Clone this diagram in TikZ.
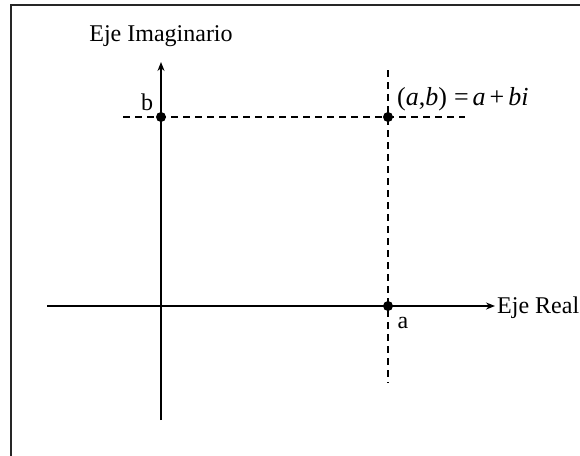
\documentclass[tikz,border=0pt]{standalone}
\usepackage{fontspec}
\setmainfont{Liberation Serif}
\usetikzlibrary{arrows.meta}
\begin{document}
\begin{tikzpicture}[x=1pt,y=-1pt,
  axis/.style={line width=1.6pt,-{Stealth[length=9pt,width=7pt,inset=3pt]}},
  guide/.style={line width=1.6pt,dash pattern=on 7pt off 5pt},
  dot/.style={circle,fill=black,inner sep=0pt,minimum size=10pt},
  lbl/.style={font=\fontsize{24}{28}\selectfont,inner sep=0pt},
  mlbl/.style={font=\fontsize{26}{30}\selectfont,inner sep=0pt},
  frame/.style={line width=1.8pt,draw=black!85}]
\useasboundingbox (0,0) rectangle (580,455);
\draw[frame] (11,5) rectangle (600,475);
% axes
\coordinate (xs) at (47,306);
\coordinate (xe) at (495,306);
\coordinate (ys) at (161,420);
\coordinate (ye) at (161,62);
\coordinate (hs) at (123,117);
\coordinate (he) at (465,117);
\coordinate (vs) at (388,70);
\coordinate (ve) at (388,383);
\draw[guide] (hs) -- (he);
\draw[guide] (vs) -- (ve);
\draw[axis] (xs) -- (xe);
\draw[axis] (ys) -- (ye);
\node[dot] (B) at (161,117) {};
\node[dot] (P) at (388,117) {};
\node[dot] (A) at (388,306) {};
\node[lbl,anchor=base west] (real) at (497,313) {Eje Real};
\node[lbl,anchor=base] (imag) at (161,41) {Eje Imaginario};
\node[lbl,anchor=base] (bl) at (147,110) {b};
\node[lbl,anchor=base] (al) at (403,328) {a};
\node[mlbl,anchor=base west] (pl) at (397,105) {(\textit{a},\textit{b})\hspace{7pt}=\hspace{4pt}\textit{a}\hspace{4pt}+\hspace{4pt}\textit{bi}};
\end{tikzpicture}
\end{document}
